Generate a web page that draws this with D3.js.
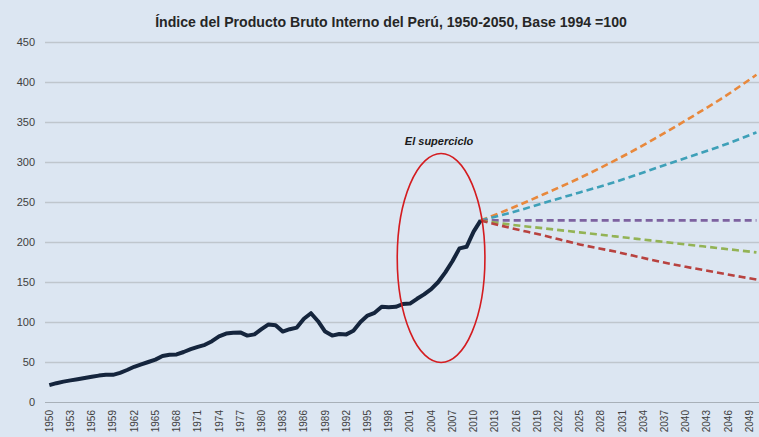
<!DOCTYPE html>
<html>
<head>
<meta charset="utf-8">
<script src="https://cdn.jsdelivr.net/npm/d3@7"></script>
<style>
  html, body { margin: 0; padding: 0; background: #dce6f2; }
  svg { display: block; }
</style>
</head>
<body>
<svg id="chart" width="759" height="437"></svg>
<script>
// historical index 1950-2011 (1994 = 100)
const histYears = d3.range(1950, 2012);
const histValues = [
  21, 23.5, 25.5, 27, 28.5, 30, 31.5, 33, 34, 34,
  36.5, 40, 44, 47, 50, 53, 57.5, 59, 59.5, 62.5,
  66, 69, 71.5, 76, 82, 85.5, 86.5, 87, 83, 84.5,
  91, 97, 96, 88, 91, 93, 104, 111, 101, 88,
  83, 85, 84.5, 89, 100, 108, 111.5, 119, 118.5, 119,
  122.5, 123, 129, 134.5, 141, 150, 162, 176, 192, 194,
  213, 227
];

// scenario projections, read at 5-year marks
const projYears = [2011, 2015, 2020, 2025, 2030, 2035, 2040, 2045, 2050];
const projHigh   = [227, 241, 260, 280, 302, 326, 352, 379, 409];
const projMedHi  = [227, 236, 249, 262, 275, 290, 305, 320, 337];
const projFlat   = [227, 227, 227, 227, 227, 227, 227, 227, 227];
const projMedLo  = [227, 222, 217, 212, 207, 202, 197, 192, 187];
const projLow    = [227, 218, 208, 197, 188, 178, 169, 161, 153];

const allYears = d3.range(1950, 2051);
const yTicks = d3.range(0, 451, 50);

const svgEl = document.getElementById("chart");
const svg = d3.select(svgEl);
const width = 759, height = 437;

const x = d3.scaleBand().domain(allYears).range([45.8, 760]);
const y = d3.scaleLinear().domain([0, 450]).range([402, 42]);
const cx = (yr) => x(yr) + x.bandwidth() / 2;

svg.append("rect").attr("width", width).attr("height", height).attr("fill", "#dce6f2");

// gridlines
const yAxisG = svg.append("g").attr("transform", "translate(45,0)");
yAxisG.call(
  d3.axisLeft(y).tickValues(yTicks).tickSize(-(width - 45)).tickPadding(10)
);
yAxisG.select(".domain").remove();
yAxisG.selectAll(".tick line")
  .attr("stroke", (d) => (d === 0 ? "#a8b0b8" : "#bfc6cd"))
  .attr("stroke-width", (d) => (d === 0 ? 1.2 : 1.3));
yAxisG.selectAll(".tick text")
  .attr("font-family", "Liberation Sans, Arial, sans-serif")
  .attr("font-size", 11)
  .attr("fill", "#404040");

// x axis labels, every 3rd year
const xAxisG = svg.append("g").attr("transform", "translate(0,402)");
xAxisG.call(
  d3.axisBottom(x).tickValues(allYears.filter((d) => (d - 1950) % 3 === 0)).tickSize(0)
);
xAxisG.select(".domain").remove();
xAxisG.selectAll(".tick text")
  .attr("font-family", "Liberation Sans, Arial, sans-serif")
  .attr("font-size", 10)
  .attr("fill", "#404040")
  .attr("text-anchor", "end")
  .attr("transform", "translate(0,8) rotate(-90)")
  .attr("x", 0)
  .attr("y", 0)
  .attr("dy", "0.35em");

// projections
const scenarios = [
  { vals: projHigh, color: "#e8883c" },
  { vals: projMedHi, color: "#3ea0b8" },
  { vals: projFlat, color: "#7d62a0" },
  { vals: projMedLo, color: "#93b355" },
  { vals: projLow, color: "#b8423f" }
];
const projLine = d3.line()
  .x((d) => cx(d[0]))
  .y((d) => y(d[1]))
  .curve(d3.curveMonotoneX);

svg.append("g").selectAll("path")
  .data(scenarios)
  .join("path")
  .attr("fill", "none")
  .attr("stroke", (d) => d.color)
  .attr("stroke-width", 2.6)
  .attr("stroke-dasharray", "7,4")
  .attr("d", (d) => projLine(projYears.map((yr, i) => [yr, d.vals[i]])));

// historical line
const histLine = d3.line()
  .x((d) => cx(d[0]))
  .y((d) => y(d[1]));
svg.append("path")
  .datum(histYears.map((yr, i) => [yr, histValues[i]]))
  .attr("fill", "none")
  .attr("stroke", "#15253d")
  .attr("stroke-width", 4)
  .attr("stroke-linejoin", "round")
  .attr("d", histLine);

// "superciclo" ellipse annotation (centred ~2005.4, value 180)
const ecx = cx(2005) + 0.4 * x.step();
const ecy = y(180);
svg.append("ellipse")
  .attr("cx", ecx)
  .attr("cy", ecy)
  .attr("rx", 6.2 * x.step())
  .attr("ry", y(50) - y(180.6))
  .attr("fill", "none")
  .attr("stroke", "#d41c20")
  .attr("stroke-width", 1.6);

svg.append("text")
  .attr("x", ecx - 2)
  .attr("y", 145)
  .attr("text-anchor", "middle")
  .attr("font-family", "Liberation Sans, Arial, sans-serif")
  .attr("font-size", 11)
  .attr("font-weight", "bold")
  .attr("font-style", "italic")
  .attr("fill", "#1a1a1a")
  .text("El superciclo");

// title
const title = svg.append("text")
  .attr("x", 391)
  .attr("y", 27)
  .attr("text-anchor", "middle")
  .attr("font-family", "Liberation Sans, Arial, sans-serif")
  .attr("font-size", 13)
  .attr("font-weight", "bold")
  .attr("fill", "#262626")
  .text("Índice del Producto Bruto Interno del Perú, 1950-2050, Base 1994 =100");
const tw = title.node().getComputedTextLength();
if (tw > 0) title.attr("font-size", 13 * 472 / tw);
</script>
</body>
</html>
